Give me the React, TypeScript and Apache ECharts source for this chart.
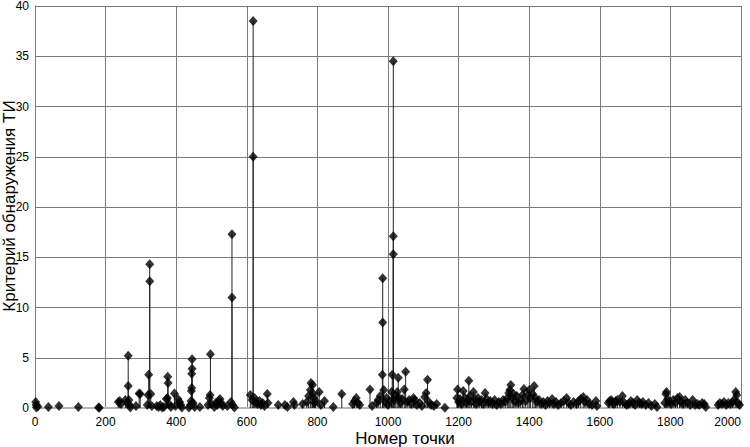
import React, { useEffect, useRef } from "react";
import * as echarts from "echarts";

// Point number (x) and detection criterion (y)
const pointX: number[] = [
  2, 3, 4, 8, 38, 68, 123, 180, 182,
  236, 240, 244, 256, 262, 264, 264, 266, 268, 270, 286,
  295, 298, 318, 320, 322, 325, 325, 328, 331,
  345, 350, 355, 360, 365, 372, 375, 376, 377, 380, 385, 395, 398, 405, 410, 413, 416,
  436, 440, 442, 443, 444, 444, 445, 445, 448, 452, 467,
  490, 494, 496, 497, 500, 508, 512, 516, 520, 524, 528, 532, 545, 555, 558, 558, 560, 565,
  610, 615, 618, 618, 622, 626, 630, 636, 640, 645, 650,
  658, 660, 689, 708, 715, 732, 735, 758, 770, 775, 780, 782, 786, 788, 790, 792, 795, 805, 810, 820, 845, 869, 900, 905, 910, 915, 920, 949, 955,
  968, 972, 978, 984, 985, 985, 988, 992, 996, 1000, 1005, 1010, 1012, 1015, 1015, 1015, 1018, 1022, 1026, 1029, 1032, 1036, 1040, 1046, 1050, 1054, 1060, 1066, 1072, 1076, 1082, 1090, 1096, 1104, 1108, 1112, 1116, 1122, 1130, 1138, 1161,
  1195, 1197, 1200, 1204, 1208, 1213, 1218, 1222, 1226, 1229, 1232, 1236, 1242, 1246, 1250, 1255, 1260, 1265, 1270, 1275, 1280, 1285, 1290, 1296, 1302, 1308, 1314, 1320, 1326, 1332, 1338, 1342, 1345, 1348, 1352, 1356, 1360, 1365, 1370, 1376, 1381, 1385, 1390, 1396, 1400, 1404, 1410, 1414, 1418, 1422, 1428, 1434, 1440, 1446, 1452, 1458, 1465, 1470, 1476, 1482, 1490, 1498, 1506, 1512, 1518, 1526, 1534, 1540, 1546, 1553, 1558, 1564, 1570, 1578, 1589, 1592,
  1624, 1628, 1632, 1636, 1640, 1645, 1650, 1657, 1664, 1670, 1676, 1682, 1688, 1694, 1700, 1706, 1712, 1718, 1722, 1730, 1738, 1746, 1756, 1762,
  1784, 1787, 1789, 1792, 1796, 1802, 1808, 1814, 1820, 1826, 1830, 1836, 1842, 1848, 1856, 1863, 1870, 1876, 1882, 1890, 1896, 1900,
  1935, 1940, 1946, 1952, 1958, 1964, 1970, 1976, 1980, 1985, 1988, 1992, 1996,
];

const pointY: number[] = [
  0.6, 0.3, 0.05, 0.15, 0.1, 0.2, 0.1, 0.05, 0.02,
  0.6, 0.7, 0.4, 0.8, 0.5, 5.2, 2.2, 0.8, 0.3, 0.05, 0.2,
  1.45, 1.4, 0.3, 1.3, 3.3, 14.3, 12.6, 1.4, 0.2,
  0.2, 0.1, 0.3, 0.05, 0.1, 0.9, 1.0, 3.1, 2.5, 0.4, 0.1, 1.45, 0.2, 0.9, 0.6, 0.3, 0.05,
  0.05, 0.3, 0.7, 1.7, 2.0, 3.4, 3.9, 4.85, 0.5, 0.1, 0.1,
  0.3, 1.0, 1.3, 5.35, 0.4, 0.1, 0.5, 0.3, 0.7, 0.9, 0.5, 0.2, 0.2, 0.6, 11.0, 17.3, 0.3, 0.05,
  1.3, 0.8, 25.0, 38.5, 1.0, 0.6, 0.4, 0.7, 0.3, 0.5, 0.2,
  1.4, 0.5, 0.3, 0.3, 0.1, 0.6, 0.3, 0.4, 0.6, 1.2, 1.8, 2.5, 2.3, 1.4, 1.0, 0.5, 0.7, 1.6, 0.3, 0.7, 0.1, 1.4, 0.4, 0.7, 1.0, 0.5, 0.3, 1.85, 0.2,
  0.5, 0.8, 1.2, 3.3, 8.5, 12.9, 1.8, 0.6, 1.0, 0.3, 0.7, 1.6, 3.3, 15.3, 17.1, 34.5, 0.8, 1.2, 1.6, 3.0, 1.0, 0.5, 0.9, 1.85, 3.6, 0.6, 0.8, 0.4, 1.0, 0.8, 0.3, 0.5, 0.2, 1.1, 1.5, 2.8, 0.6, 0.3, 0.2, 0.4, 0.02,
  1.0, 1.85, 0.6, 0.9, 0.4, 1.7, 1.0, 0.5, 0.8, 2.7, 1.2, 0.6, 1.6, 0.9, 0.4, 1.0, 0.6, 0.8, 0.4, 1.5, 0.9, 0.5, 0.7, 0.4, 0.8, 0.3, 0.6, 0.4, 0.8, 0.6, 1.0, 1.5, 1.8, 2.3, 1.0, 1.4, 0.6, 1.2, 0.5, 0.8, 1.3, 1.9, 0.7, 1.3, 1.8, 1.0, 1.4, 2.2, 1.0, 0.6, 0.8, 0.4, 0.6, 0.3, 0.7, 0.5, 0.9, 0.4, 0.6, 0.3, 0.5, 0.7, 1.0, 0.5, 0.3, 0.6, 0.4, 0.7, 0.9, 1.1, 0.6, 0.8, 0.4, 0.3, 0.7, 0.2,
  0.5, 0.7, 0.8, 0.6, 0.4, 0.7, 0.8, 0.6, 1.2, 0.5, 0.3, 0.4, 0.7, 0.5, 0.3, 0.8, 0.5, 0.4, 0.6, 0.3, 0.5, 0.2, 0.4, 0.1,
  0.5, 1.4, 1.6, 0.9, 0.6, 0.4, 0.8, 0.5, 1.0, 1.1, 0.6, 0.4, 0.8, 0.5, 0.3, 0.8, 0.3, 0.4, 0.3, 0.5, 0.4, 0.1,
  0.3, 0.5, 0.4, 0.6, 0.3, 0.5, 0.4, 0.6, 0.8, 1.6, 1.3, 0.5, 0.3,
];

const xTicks = { min: 0, max: 2000, interval: 200 };
const yTicks = { min: 0, max: 40, interval: 5 };

const xTitle = "Номер точки";
const yTitle = "Критерий обнаружения ТИ";

export default function App() {
  const ref = useRef<HTMLDivElement>(null);

  useEffect(() => {
    if (!ref.current) return;
    const chart = echarts.init(ref.current, null, { renderer: "svg" });
    const pts = pointX.map((x, i) => [x, pointY[i]]);
    const font = "'Liberation Sans', Arial, sans-serif";
    chart.setOption({
      animation: false,
      backgroundColor: "#ffffff",
      grid: { left: 35, right: 9, top: 6, bottom: 39, containLabel: false, outerBoundsMode: "none" },
      graphic: [
        {
          type: "text",
          x: 405,
          y: 438,
          style: {
            text: xTitle,
            fontFamily: font,
            fontSize: 17,
            fill: "#000",
            textAlign: "center",
            textVerticalAlign: "middle",
          },
        },
        {
          type: "text",
          x: 9,
          y: 206,
          rotation: Math.PI / 2,
          style: {
            text: yTitle,
            fontFamily: font,
            fontSize: 17,
            fill: "#000",
            textAlign: "center",
            textVerticalAlign: "middle",
          },
        },
      ],
      xAxis: {
        type: "value",
        min: xTicks.min,
        max: xTicks.max,
        interval: xTicks.interval,
        axisLine: { show: true, lineStyle: { color: "#b4b4b4", width: 2 } },
        axisTick: { show: false },
        axisLabel: {
          fontFamily: font,
          fontSize: 12,
          lineHeight: 10,
          color: "#000",
          margin: 9,
          alignMaxLabel: "right",
          formatter: (v: number) => String(v),
        },
        splitLine: { show: true, lineStyle: { color: "#7a7a7a", width: 1 } },
      },
      yAxis: {
        type: "value",
        min: yTicks.min,
        max: yTicks.max,
        interval: yTicks.interval,
        axisLine: { show: true, lineStyle: { color: "#7a7a7a", width: 1 } },
        axisTick: { show: false },
        axisLabel: {
          fontFamily: font,
          fontSize: 12,
          lineHeight: 10,
          color: "#000",
          margin: 6,
          formatter: (v: number) => String(v),
        },
        splitLine: { show: true, lineStyle: { color: "#7a7a7a", width: 1 } },
      },
      series: [
        {
          type: "bar",
          data: pts,
          barWidth: 1,
          barGap: "-100%",
          itemStyle: { color: "#222" },
          silent: true,
        },
        {
          type: "scatter",
          data: pts,
          symbol: "diamond",
          symbolSize: [9, 10],
          itemStyle: { color: "#000" },
          silent: true,
        },
      ],
    });
    return () => chart.dispose();
  }, []);

  return (
    <div
      ref={ref}
      style={{ position: "fixed", left: 0, top: 0, width: 750, height: 447, background: "#fff" }}
    />
  );
}
